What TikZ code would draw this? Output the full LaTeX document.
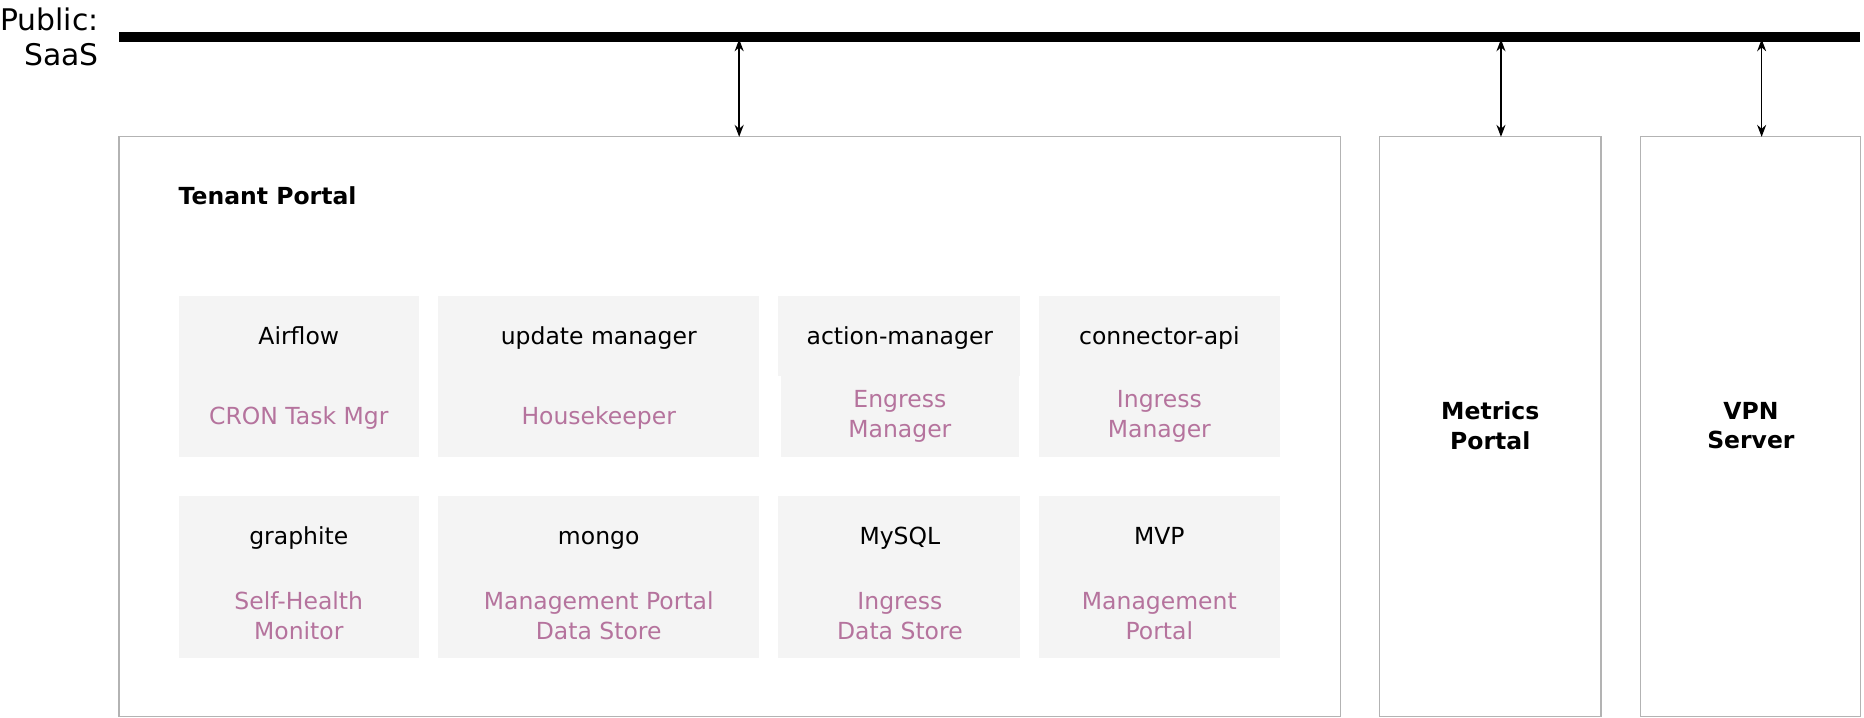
\documentclass[tikz,border=0pt]{standalone}
\usepackage{fontspec}
\setmainfont{DejaVu Sans}
\usetikzlibrary{arrows.meta}
\definecolor{subc}{HTML}{B5739D}
\definecolor{cellfill}{HTML}{F4F4F4}
\definecolor{framec}{HTML}{B3B3B3}
\tikzset{
  frame/.style={draw=framec, line width=1.2pt, fill=white},
  cell/.style={fill=cellfill, draw=none},
  ttl/.style={font=\fontsize{23.5}{29.8}\selectfont, text=black, align=center, inner sep=0pt},
  sub/.style={font=\fontsize{23.5}{29.8}\selectfont, text=subc, align=center, inner sep=0pt},
  bld/.style={font=\fontsize{23.5}{29.8}\selectfont\bfseries, align=center, inner sep=0pt},
  link/.style={line width=1.6pt, {Stealth[length=12pt,width=9pt]}-{Stealth[length=12pt,width=9pt]}},
}
\begin{document}
\begin{tikzpicture}[x=1.1903pt,y=-1.1903pt]
\useasboundingbox (0,0) rectangle (1566,602.4);
% public bar
\draw[line width=9.5pt] (100,31) -- (1563,31);
\node[anchor=east, font=\fontsize{29.8}{35.7}\selectfont, align=right, inner sep=0pt] (pub) at (83,31) {Public:\\SaaS};
% outer frames
\draw[frame] (100,115) rectangle (1126,602);
\draw[frame] (1159,115) rectangle (1345,602);
\draw[frame] (1378,115) rectangle (1563,602);
\node[bld, anchor=base west] (tp) at (150,172) {Tenant Portal};
\node[bld] (mp) at (1252,357.5) {Metrics\\Portal};
\node[bld] (vpn) at (1471,357.5) {VPN\\Server};
% arrows
\coordinate (b1) at (621,33); \coordinate (t1) at (621,115);
\coordinate (b2) at (1261,33); \coordinate (t2) at (1261,115);
\coordinate (b3) at (1480,33); \coordinate (t3) at (1480,115);
\draw[link] (b1) -- (t1);
\draw[link] (b2) -- (t2);
\draw[link] (b3) -- (t3);
% row 1 cells
\fill[cell] (150,249) rectangle (352,384);
\fill[cell] (368,249) rectangle (638,384);
\fill[cell] (654,249) rectangle (857,316);
\fill[cell] (656,316) rectangle (856,384);
\fill[cell] (873,249) rectangle (1075,384);
% row 2 cells
\fill[cell] (150,417) rectangle (352,553);
\fill[cell] (368,417) rectangle (638,553);
\fill[cell] (654,417) rectangle (857,553);
\fill[cell] (873,417) rectangle (1075,553);
% row 1 text
\node[ttl, anchor=base] (a1) at (251,289.5) {Airflow};
\node[sub, anchor=base] (a2) at (251,356.5) {CRON Task Mgr};
\node[ttl, anchor=base] (u1) at (503,289.5) {update manager};
\node[sub, anchor=base] (u2) at (503,356.5) {Housekeeper};
\node[ttl, anchor=base] (m1) at (756,289.5) {action-manager};
\node[sub] (m2) at (756,349.5) {Engress\\Manager};
\node[ttl, anchor=base] (c1) at (974,289.5) {connector-api};
\node[sub] (c2) at (974,349.5) {Ingress\\Manager};
% row 2 text
\node[ttl, anchor=base] (g1) at (251,457.5) {graphite};
\node[sub] (g2) at (251,517.5) {Self-Health\\Monitor};
\node[ttl, anchor=base] (o1) at (503,457.5) {mongo};
\node[sub] (o2) at (503,517.5) {Management Portal\\Data Store};
\node[ttl, anchor=base] (s1) at (756,457.5) {MySQL};
\node[sub] (s2) at (756,517.5) {Ingress\\Data Store};
\node[ttl, anchor=base] (v1) at (974,457.5) {MVP};
\node[sub] (v2) at (974,517.5) {Management\\Portal};
\end{tikzpicture}
\end{document}
